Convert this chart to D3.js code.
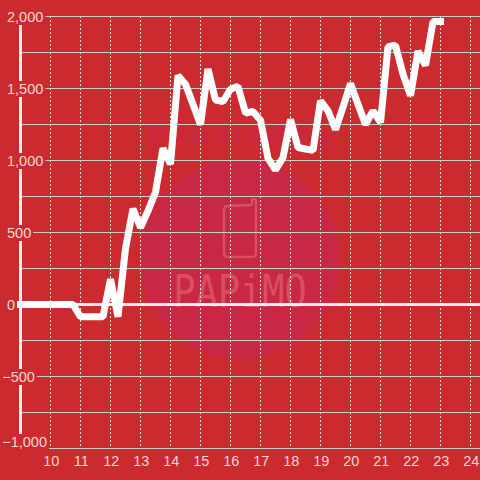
<!DOCTYPE html>
<html><head><meta charset="utf-8">
<script src="https://cdn.jsdelivr.net/npm/d3@7/dist/d3.min.js"></script>
<style>html,body{margin:0;padding:0;background:#cb2a2e}svg{display:block}</style>
</head><body><svg id="c" width="480" height="480"></svg>
<script>
const hours = [9,9.25,9.5,9.75,10,10.25,10.5,10.75,11,11.25,11.5,11.75,12,12.25,12.5,12.75,13,13.25,13.5,13.75,14,14.25,14.5,14.75,15,15.25,15.5,15.75,16,16.25,16.5,16.75,17,17.25,17.5,17.75,18,18.25,18.5,18.75,19,19.25,19.5,19.75,20,20.25,20.5,20.75,21,21.25,21.5,21.75,22,22.25,22.5,22.75,23];
const values = [0,0,0,0,0,0,0,0,-85,-85,-85,-85,175,-85,390,665,535,650,780,1085,975,1590,1530,1390,1250,1635,1420,1410,1495,1515,1330,1340,1280,1015,935,1020,1285,1090,1080,1070,1415,1345,1215,1370,1535,1390,1250,1345,1265,1790,1800,1600,1450,1760,1660,1965,1965];
const xTicks = [10,11,12,13,14,15,16,17,18,19,20,21,22,23,24];
const yGrid = [2000,1750,1500,1250,1000,750,500,250,-250,-500,-750,-1000];
const yLabels = [2000,1500,1000,500,0,-500,-1000];

const svg = d3.select('#c');
const x = d3.scaleLinear().domain([9,24]).range([20.5,470.5]);
const y = d3.scaleLinear().domain([-1000,2000]).range([448.5,16.5]);
const fmt = d3.format(',');

// watermark
const wm = svg.append('g');
wm.append('circle').attr('cx',240).attr('cy',259).attr('r',100).attr('fill','#c92845');
wm.append('text').attr('x',241).attr('y',145).attr('text-anchor','middle')
  .attr('font-family','Liberation Sans').attr('font-weight','bold').attr('font-style','italic')
  .attr('font-size',27).attr('textLength',186).attr('lengthAdjust','spacing').attr('fill','#c92845').text('Powered by');
wm.append('path').attr('fill','none').attr('stroke','#d8505f').attr('stroke-width',2.4)
  .attr('d','M228,206L252,205M228,206Q224,206 224,210L224,253Q224,257 228,257L252,257Q256,257 256,253L256,201Q256,199 254,199Q252,199 252,201L252,205');
wm.append('text').attr('text-anchor','middle')
  .attr('transform','translate(240,307) scale(0.84,1)')
  .attr('font-family','DejaVu Sans Mono').attr('font-size',44).attr('fill','#d8505f').text('PAPiMO');

// grid
svg.append('g').selectAll('line').data(xTicks).join('line')
  .attr('x1',d=>x(d)).attr('x2',d=>x(d)).attr('y1',16).attr('y2',447)
  .attr('stroke','#dfe3df').attr('stroke-width',1).attr('stroke-dasharray','2,2');
svg.append('g').selectAll('line').data(yGrid).join('line')
  .attr('x1',20).attr('x2',480).attr('y1',d=>y(d)).attr('y2',d=>y(d))
  .attr('stroke','#c9cdc9').attr('stroke-width',1);
svg.append('line').attr('x1',20).attr('x2',480).attr('y1',y(0)).attr('y2',y(0)).attr('stroke','#f3efef').attr('stroke-width',3);
svg.append('line').attr('x1',20.5).attr('x2',20.5).attr('y1',16).attr('y2',448).attr('stroke','#f3efef').attr('stroke-width',3);

// y labels with backing
const yl = svg.append('g').attr('font-family','Liberation Sans').attr('font-size',14.5).attr('fill','#f3d6d6');
const yg = yl.selectAll('g').data(yLabels).join('g');
yg.append('text').attr('x',d=>d<0?2.2:7).attr('y',d=>y(d)+5.5-(d===-1000?7:0)).text(d=>fmt(d))
  .each(function(){ const b=this.getBBox();
    d3.select(this.parentNode).insert('rect','text').attr('x',b.x-1).attr('y',b.y).attr('width',b.width+3).attr('height',b.height).attr('fill','#cb2a2e');});

// x labels
svg.append('g').attr('font-family','Liberation Sans').attr('font-size',14.5).attr('fill','#f3d6d6')
  .attr('text-anchor','middle').selectAll('text').data(xTicks).join('text')
  .attr('x',d=>x(d)+0.8).attr('y',466).text(d=>d);

// series
svg.append('path').attr('fill','none').attr('stroke','#fff').attr('stroke-width',7)
  .attr('stroke-linecap','square').attr('stroke-linejoin','bevel')
  .attr('d',d3.line().x((d,i)=>x(hours[i])).y(d=>y(d))(values));
</script></body></html>
